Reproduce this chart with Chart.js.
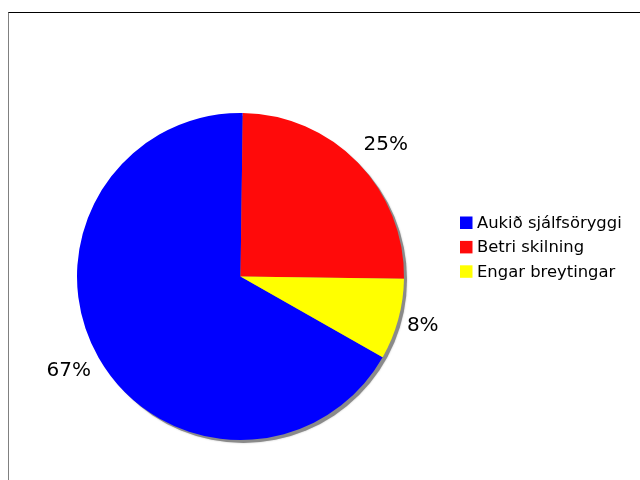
<!DOCTYPE html>
<html>
<head>
<meta charset="utf-8">
<script src="https://cdn.jsdelivr.net/npm/chart.js@4.4.1/dist/chart.umd.min.js"></script>
<style>
  html, body { margin: 0; padding: 0; background: #fff; }
  #wrap { position: relative; width: 640px; height: 480px; overflow: hidden; }
  #frame {
    position: absolute; left: 8px; top: 12px; width: 700px; height: 500px;
    border-top: 1px solid #000; border-left: 1px solid #808080;
  }
  canvas { position: absolute; left: 0; top: 0; }
</style>
</head>
<body>
<div id="wrap">
  <div id="frame"></div>
  <canvas id="chartPie" width="640" height="480"></canvas>
</div>
<script>
// ── Pie: change reported by participants ────────────────

const categories = ["Aukið sjálfsöryggi", "Betri skilning", "Engar breytingar"];
const shares = [67, 25, 8];
const sliceColors = ["#0000ff", "#ff0a0a", "#ffff00"];

const FONT = "'DejaVu Sans', Verdana, sans-serif";

// grey drop shadow behind the whole pie
const pieShadow = {
  id: "pieShadow",
  beforeDatasetsDraw(chart) {
    const arc = chart.getDatasetMeta(0).data[0];
    if (!arc) return;
    const { x, y, outerRadius } = arc.getProps(["x", "y", "outerRadius"], true);
    const ctx = chart.ctx;
    ctx.save();
    ctx.fillStyle = "#8a8a8a";
    ctx.shadowColor = "rgba(0,0,0,0.25)";
    ctx.shadowBlur = 2;
    ctx.beginPath();
    ctx.arc(x + 3, y + 3, outerRadius, 0, Math.PI * 2);
    ctx.fill();
    ctx.restore();
  },
};

// percentage labels just outside each slice
const outerLabels = {
  id: "outerLabels",
  afterDatasetsDraw(chart) {
    const ctx = chart.ctx;
    const total = shares.reduce((a, b) => a + b, 0);
    ctx.save();
    ctx.font = "20px " + FONT;
    ctx.fillStyle = "#000";
    ctx.textAlign = "center";
    ctx.textBaseline = "middle";
    chart.getDatasetMeta(0).data.forEach((arc, i) => {
      const p = arc.getProps(["x", "y", "startAngle", "endAngle", "outerRadius"], true);
      const mid = (p.startAngle + p.endAngle) / 2;
      const r = p.outerRadius + 11;
      const px = p.x + Math.cos(mid) * r;
      const py = p.y + Math.sin(mid) * r;
      const text = Math.round((shares[i] / total) * 100) + "%";
      const w = ctx.measureText(text).width;
      const cx = px + Math.sign(Math.cos(mid)) * (w / 2 - 2);
      const cy = py + Math.sin(mid) * 15;
      ctx.fillText(text, cx, cy);
    });
    ctx.restore();
  },
};

// legend on the right, square swatches
const sideLegend = {
  id: "sideLegend",
  afterDraw(chart) {
    const ctx = chart.ctx;
    ctx.save();
    ctx.font = "16.4px " + FONT;
    ctx.textBaseline = "middle";
    ctx.textAlign = "left";
    categories.forEach((label, i) => {
      const y = 222.5 + i * 24.4;
      ctx.fillStyle = sliceColors[i];
      ctx.fillRect(460, y - 6, 12.5, 12.5);
      ctx.fillStyle = "#000";
      ctx.fillText(label, 477, y + 1);
    });
    ctx.restore();
  },
};

new Chart(document.getElementById("chartPie"), {
  type: "pie",
  data: {
    labels: categories,
    datasets: [
      {
        data: shares,
        backgroundColor: sliceColors,
        borderWidth: 0,
      },
    ],
  },
  options: {
    responsive: false,
    animation: false,
    rotation: -240.4,
    layout: { padding: { left: 77, right: 236, top: 113, bottom: 40 } },
    plugins: {
      legend: { display: false },
      tooltip: { enabled: false },
    },
  },
  plugins: [pieShadow, outerLabels, sideLegend],
});
</script>
</body>
</html>
